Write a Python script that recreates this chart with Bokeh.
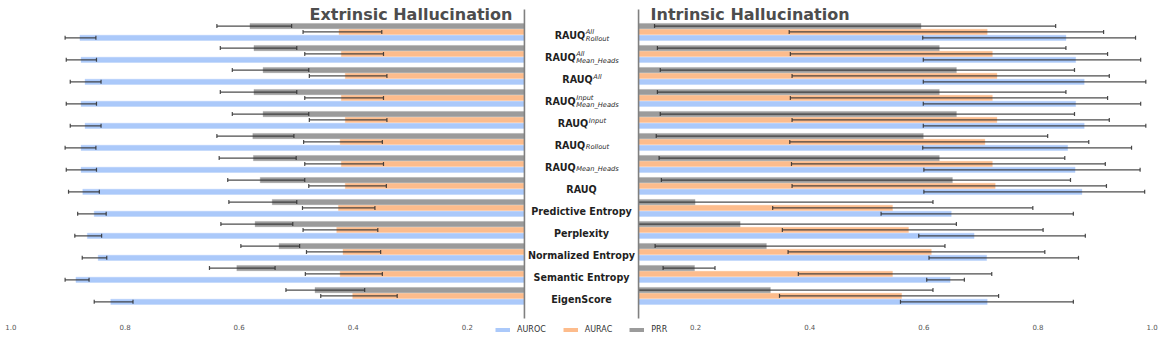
import math
from bokeh.plotting import figure
from bokeh.models import (Range1d, ColumnDataSource, BoxAnnotation, Legend, LegendItem,
                          FixedTicker, CustomJSTickFormatter, LinearAxis)
from bokeh.core.properties import value
from bokeh.embed import file_html
from bokeh.resources import INLINE

# ---------------- data ----------------
LABEL_BASE = ["RAUQ", "RAUQ", "RAUQ", "RAUQ", "RAUQ", "RAUQ", "RAUQ", "RAUQ",
              "Predictive Entropy", "Perplexity", "Normalized Entropy",
              "Semantic Entropy", "EigenScore"]
LABEL_SUP = ["All", "All", "All", "Input", "Input", "", "", "", "", "", "", "", ""]
LABEL_SUB = ["Rollout", "Mean_Heads", "", "Mean_Heads", "", "Rollout", "Mean_Heads", "",
             "", "", "", "", ""]

SERIES = ["AUROC", "AURAC", "PRR"]
TICKS = [0.2, 0.4, 0.6, 0.8, 1.0]

# Extrinsic hallucination
ext_auroc    = [0.879, 0.877, 0.870, 0.877, 0.870, 0.877, 0.877, 0.874, 0.854, 0.866, 0.847, 0.886, 0.825]
ext_auroc_lo = [0.851, 0.850, 0.842, 0.850, 0.842, 0.851, 0.850, 0.845, 0.833, 0.841, 0.832, 0.863, 0.786]
ext_auroc_hi = [0.905, 0.903, 0.896, 0.903, 0.896, 0.905, 0.903, 0.899, 0.883, 0.888, 0.875, 0.905, 0.854]
ext_aurac    = [0.425, 0.421, 0.414, 0.421, 0.414, 0.423, 0.421, 0.414, 0.426, 0.429, 0.418, 0.423, 0.401]
ext_aurac_lo = [0.350, 0.347, 0.341, 0.347, 0.341, 0.349, 0.347, 0.342, 0.362, 0.357, 0.352, 0.349, 0.323]
ext_aurac_hi = [0.488, 0.485, 0.477, 0.485, 0.477, 0.487, 0.485, 0.478, 0.489, 0.488, 0.482, 0.484, 0.457]
ext_prr      = [0.581, 0.574, 0.558, 0.574, 0.558, 0.576, 0.575, 0.563, 0.542, 0.572, 0.530, 0.604, 0.467]
ext_prr_lo   = [0.508, 0.499, 0.478, 0.499, 0.478, 0.504, 0.500, 0.485, 0.499, 0.506, 0.494, 0.537, 0.380]
ext_prr_hi   = [0.639, 0.633, 0.612, 0.633, 0.612, 0.639, 0.635, 0.620, 0.618, 0.632, 0.597, 0.652, 0.518]

# Intrinsic hallucination
int_auroc    = [0.849, 0.866, 0.881, 0.866, 0.881, 0.852, 0.865, 0.877, 0.648, 0.688, 0.710, 0.646, 0.711]
int_auroc_lo = [0.598, 0.599, 0.599, 0.599, 0.599, 0.598, 0.600, 0.600, 0.525, 0.591, 0.609, 0.605, 0.559]
int_auroc_hi = [0.971, 0.980, 0.989, 0.980, 0.989, 0.964, 0.979, 0.987, 0.862, 0.883, 0.871, 0.671, 0.862]
int_aurac    = [0.711, 0.720, 0.728, 0.720, 0.728, 0.707, 0.720, 0.725, 0.545, 0.573, 0.613, 0.545, 0.561]
int_aurac_lo = [0.364, 0.366, 0.369, 0.366, 0.369, 0.365, 0.368, 0.369, 0.335, 0.352, 0.362, 0.380, 0.347]
int_aurac_hi = [0.915, 0.922, 0.925, 0.922, 0.925, 0.889, 0.918, 0.920, 0.791, 0.809, 0.812, 0.719, 0.731]
int_prr      = [0.595, 0.627, 0.657, 0.627, 0.657, 0.599, 0.627, 0.650, 0.199, 0.278, 0.324, 0.198, 0.331]
int_prr_lo   = [0.128, 0.133, 0.138, 0.133, 0.138, 0.131, 0.136, 0.140, 0.050, 0.070, 0.129, 0.143, 0.060]
int_prr_hi   = [0.831, 0.849, 0.864, 0.849, 0.864, 0.817, 0.847, 0.857, 0.616, 0.657, 0.637, 0.234, 0.616]

EXT = {"AUROC": (ext_auroc, ext_auroc_lo, ext_auroc_hi),
       "AURAC": (ext_aurac, ext_aurac_lo, ext_aurac_hi),
       "PRR": (ext_prr, ext_prr_lo, ext_prr_hi)}
INT = {"AUROC": (int_auroc, int_auroc_lo, int_auroc_hi),
       "AURAC": (int_aurac, int_aurac_lo, int_aurac_hi),
       "PRR": (int_prr, int_prr_lo, int_prr_hi)}

# ---------------- style / layout ----------------
COLORS = {"AUROC": "#abc9fa", "AURAC": "#fdbc8c", "PRR": "#9b9b9b"}
OFFSETS = {"PRR": -0.265, "AURAC": 0.0, "AUROC": 0.27}
BAR_H = 0.24
ERR_COLOR = "#2e2e2e"
AXIS_MIN = 0.1          # both value axes start at 0.1 at the centre column
FONT = "DejaVu Sans"
LABEL_FS = 9.6
SCRIPT_FS = 6.7

W, H = 1162, 343
PX_PER_UNIT_X = 570.6
PITCH = 22.0                    # px per category row
X_HALF = (W / 2) / PX_PER_UNIT_X
Y_TOP = -31.4 / PITCH           # first row centre sits 31.4 px below the top
Y_BOTTOM = Y_TOP + H / PITCH
Y_PANEL_TOP = Y_TOP + 9 / PITCH
Y_PANEL_BOTTOM = Y_TOP + 318 / PITCH
n = len(LABEL_BASE)

p = figure(width=W, height=H, output_backend="svg", toolbar_location=None,
           x_range=Range1d(-X_HALF, X_HALF), y_range=Range1d(Y_BOTTOM, Y_TOP),
           x_axis_location=None, y_axis_location=None,
           min_border_left=0, min_border_right=0, min_border_top=0, min_border_bottom=0)
p.extra_x_ranges = {"left": Range1d(X_HALF, -X_HALF)}
p.xgrid.visible = False
p.ygrid.visible = False
p.outline_line_color = None
p.background_fill_color = "white"

# bars
panels = [("left", EXT), ("default", INT)]
for rn, data in panels:
    for s in SERIES:
        vals, lo, hi = data[s]
        src = ColumnDataSource(dict(y=[i + OFFSETS[s] for i in range(n)], v=vals, lo=lo, hi=hi))
        p.hbar(y="y", left=0, right="v", height=BAR_H, source=src, x_range_name=rn,
               fill_color=COLORS[s], line_color=COLORS[s], line_alpha=0.35, line_width=1)
for rn, data in panels:
    for s in SERIES:
        vals, lo, hi = data[s]
        src = ColumnDataSource(dict(y=[i + OFFSETS[s] for i in range(n)], v=vals, lo=lo, hi=hi))
        p.segment(x0="lo", x1="hi", y0="y", y1="y", source=src, x_range_name=rn,
                  line_color=ERR_COLOR, line_width=1.2, line_alpha=0.85)
        for col in ("lo", "hi"):
            p.scatter(x=col, y="y", source=src, x_range_name=rn, marker="dash",
                      angle=math.pi / 2, size=4, line_color=ERR_COLOR, line_width=1.2,
                      line_alpha=0.85)

# white centre column + axis spines
p.add_layout(BoxAnnotation(left=-AXIS_MIN, right=AXIS_MIN, top=Y_PANEL_TOP,
                           bottom=Y_PANEL_BOTTOM, fill_color="white",
                           fill_alpha=1, line_alpha=0, level="annotation"))
sp = p.segment(x0=[-AXIS_MIN, AXIS_MIN], x1=[-AXIS_MIN, AXIS_MIN],
               y0=[Y_PANEL_TOP, Y_PANEL_TOP], y1=[Y_PANEL_BOTTOM, Y_PANEL_BOTTOM],
               line_color="#808080", line_width=1.6)
sp.level = "overlay"

# titles
t1 = p.text(x=[AXIS_MIN], y=[Y_PANEL_TOP], text=["Extrinsic Hallucination"], x_range_name="left",
            x_offset=-12, y_offset=4.5, text_align="right", text_baseline="middle",
            text_font=value(FONT), text_font_style="bold", text_font_size="16px",
            text_color="#4d4d4d")
t2 = p.text(x=[AXIS_MIN], y=[Y_PANEL_TOP], text=["Intrinsic Hallucination"],
            x_offset=12, y_offset=4.5, text_align="left", text_baseline="middle",
            text_font=value(FONT), text_font_style="bold", text_font_size="16px",
            text_color="#4d4d4d")
t1.level = "overlay"
t2.level = "overlay"

# centre labels (bold base + italic super/subscripts)
BOLD_W = {"R": 0.770, "A": 0.774, "U": 0.812, "Q": 0.850}
REG_W = {"A": 0.684, "l": 0.278, "R": 0.695, "o": 0.612, "u": 0.634, "t": 0.392,
         "M": 0.863, "e": 0.615, "a": 0.613, "n": 0.634, "_": 0.500, "H": 0.752,
         "d": 0.635, "s": 0.521, "I": 0.295, "p": 0.635}

def width(s, table, fs):
    return sum(table.get(c, 0.6) for c in s) * fs

BASE_DY = 3.6
plain = dict(y=[], text=[])
rich = dict(y=[], text=[], xo=[])
sup = dict(y=[], text=[], xo=[], yo=[])
sub = dict(y=[], text=[], xo=[], yo=[])
for i in range(n):
    b, su, sb = LABEL_BASE[i], LABEL_SUP[i], LABEL_SUB[i]
    if not su and not sb:
        plain["y"].append(i)
        plain["text"].append(b)
        continue
    wb = width(b, BOLD_W, LABEL_FS)
    ws = max(width(su, REG_W, SCRIPT_FS), width(sb, REG_W, SCRIPT_FS))
    anchor = (wb - ws) / 2
    rich["y"].append(i); rich["text"].append(b); rich["xo"].append(anchor)
    both = bool(su) and bool(sb)
    if su:
        sup["y"].append(i); sup["text"].append(su); sup["xo"].append(anchor + 0.6)
        sup["yo"].append(0.0 if both else 0.6)
    if sb:
        sub["y"].append(i); sub["text"].append(sb); sub["xo"].append(anchor + 0.6)
        sub["yo"].append(6.7 if both else 5.5)

lab_kw = dict(text_font=value(FONT), text_baseline="middle", text_color="#1f1f1f")
r = p.text(x=0, y="y", text="text", source=ColumnDataSource(plain), text_align="center",
           y_offset=BASE_DY, text_font_style="bold", text_font_size=f"{LABEL_FS}px", **lab_kw)
r.level = "overlay"
r = p.text(x=0, y="y", text="text", source=ColumnDataSource(rich), text_align="right",
           x_offset="xo", y_offset=BASE_DY, text_font_style="bold",
           text_font_size=f"{LABEL_FS}px", **lab_kw)
r.level = "overlay"
for d in (sup, sub):
    r = p.text(x=0, y="y", text="text", source=ColumnDataSource(d), text_align="left",
               x_offset="xo", y_offset="yo", text_font_style="italic",
               text_font_size=f"{SCRIPT_FS}px", **lab_kw)
    r.level = "overlay"

# bottom value axis (mirrored tick labels), drawn at the panel bottom
ax = LinearAxis(fixed_location=Y_PANEL_BOTTOM)
ax.ticker = FixedTicker(ticks=[-t for t in TICKS[::-1]] + TICKS)
ax.formatter = CustomJSTickFormatter(code="return Math.abs(tick).toFixed(1);")
ax.axis_line_color = None
ax.major_tick_line_color = None
ax.minor_tick_line_color = None
ax.major_tick_out = 0
ax.major_tick_in = 0
ax.minor_tick_out = 0
ax.minor_tick_in = 0
ax.major_label_standoff = 5
ax.major_label_text_font = FONT
ax.major_label_text_font_size = "7px"
ax.major_label_text_color = "#555555"
p.add_layout(ax, "below")

# legend (inside the canvas, bottom centre); swatch renderers carry no visible points
items = []
for s in SERIES:
    lr = p.line(x=[float("nan")], y=[float("nan")], line_color=COLORS[s], line_width=4)
    items.append(LegendItem(label=s, renderers=[lr]))
legend = Legend(items=items, orientation="horizontal", location=(495, 9),
                glyph_width=15, glyph_height=9, label_height=9, label_standoff=7,
                spacing=17, padding=0, margin=0, label_text_font=FONT,
                label_text_font_size="8px", label_text_color="#333333",
                background_fill_alpha=0, border_line_alpha=0)
p.add_layout(legend)

open("out.html", "w").write(file_html(p, INLINE))
